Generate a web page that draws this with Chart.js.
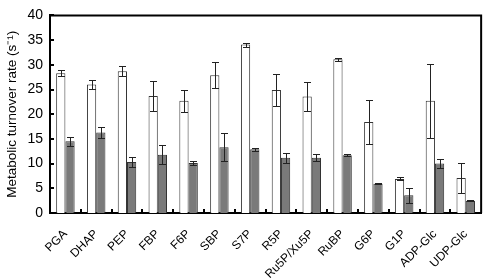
<!DOCTYPE html>
<html>
<head>
<meta charset="utf-8">
<script src="https://cdn.jsdelivr.net/npm/chart.js@4.4.0/dist/chart.umd.min.js"></script>
<style>
  html, body { margin: 0; padding: 0; background: #fff; }
  #wrap { width: 490px; height: 280px; }
</style>
</head>
<body>
<div id="wrap"><canvas id="turnoverChart"></canvas></div>
<script>
const metabolites = ['PGA', 'DHAP', 'PEP', 'FBP', 'F6P', 'SBP', 'S7P', 'R5P', 'Ru5P/Xu5P', 'RuBP', 'G6P', 'G1P', 'ADP-Glc', 'UDP-Glc'];
const whiteValues = [28.3, 26.0, 28.7, 23.7, 22.7, 27.9, 34.1, 24.9, 23.6, 31.1, 18.4, 6.9, 22.7, 7.1];
const whiteErrors = [0.6, 0.9, 1.0, 3.0, 2.3, 2.6, 0.4, 3.3, 3.0, 0.3, 4.5, 0.3, 7.5, 3.0];
const grayValues = [14.5, 16.3, 10.3, 11.8, 10.1, 13.3, 12.9, 11.2, 11.2, 11.7, 5.9, 3.6, 10.0, 2.5];
const grayErrors = [0.9, 1.2, 1.0, 1.9, 0.4, 2.8, 0.3, 1.0, 0.7, 0.2, 0.1, 1.5, 0.9, 0.1];
const yTicks = [0, 5, 10, 15, 20, 25, 30, 35, 40];

const FONT = 'Liberation Sans, Arial, sans-serif';

// error bars + inward ticks + box frame
const extras = {
  id: 'extras',
  afterDatasetsDraw(chart) {
    const { ctx, chartArea: a, scales: { x, y } } = chart;
    ctx.save();
    const errs = [whiteErrors, grayErrors];
    chart.data.datasets.forEach((ds, di) => {
      const meta = chart.getDatasetMeta(di);
      meta.data.forEach((bar, i) => {
        const v = ds.data[i], e = errs[di][i];
        if (!e) return;
        const top = Math.round(y.getPixelForValue(v + e)) + 0.5;
        const bot = Math.round(y.getPixelForValue(v - e)) + 0.5;
        const cx = Math.round(bar.x) + 0.5;
        ctx.strokeStyle = '#222';
        ctx.lineWidth = 1;
        ctx.beginPath();
        ctx.moveTo(cx, top); ctx.lineTo(cx, bot);
        ctx.moveTo(cx - 3.5, top); ctx.lineTo(cx + 3.5, top);
        ctx.moveTo(cx - 3.5, bot); ctx.lineTo(cx + 3.5, bot);
        ctx.stroke();
      });
    });

    ctx.strokeStyle = '#000';
    ctx.lineWidth = 2;
    // frame on top and right
    ctx.beginPath();
    ctx.moveTo(a.left, a.top);
    ctx.lineTo(a.right, a.top);
    ctx.lineTo(a.right, a.bottom);
    ctx.stroke();

    // inward ticks
    ctx.beginPath();
    for (let i = 0; i < metabolites.length - 1; i++) {
      const bx = Math.round((x.getPixelForTick(i) + x.getPixelForTick(i + 1)) / 2);
      ctx.moveTo(bx, a.bottom); ctx.lineTo(bx, a.bottom - 4);
    }
    yTicks.forEach(t => {
      const py = Math.round(y.getPixelForValue(t));
      ctx.moveTo(a.left, py); ctx.lineTo(a.left + 4, py);
    });
    ctx.stroke();
    ctx.restore();
  }
};

new Chart(document.getElementById('turnoverChart'), {
  type: 'bar',
  data: {
    labels: metabolites,
    datasets: [
      {
        label: 'white',
        data: whiteValues,
        backgroundColor: '#ffffff',
        borderColor: '#333',
        borderWidth: 1,
        barPercentage: 1,
        categoryPercentage: 0.6
      },
      {
        label: 'gray',
        data: grayValues,
        backgroundColor: '#7a7a7a',
        borderColor: '#333',
        borderWidth: 1,
        barPercentage: 1,
        categoryPercentage: 0.6
      }
    ]
  },
  options: {
    responsive: true,
    maintainAspectRatio: false,
    animation: false,
    layout: { padding: { top: 7, right: 2, left: 0, bottom: 0 } },
    plugins: {
      legend: { display: false },
      tooltip: { enabled: false }
    },
    scales: {
      x: {
        grid: { display: false, drawTicks: false, tickLength: 0 },
        border: { display: true, color: '#000', width: 2 },
        ticks: {
          color: '#000',
          font: { family: FONT, size: 12 },
          minRotation: 45,
          maxRotation: 45,
          padding: 14,
          autoSkip: false
        },
        afterFit(s) { s.height = 67; }
      },
      y: {
        min: 0,
        max: 40,
        grid: { display: false, drawTicks: false, tickLength: 0 },
        border: { display: true, color: '#000', width: 2 },
        ticks: {
          stepSize: 5,
          color: '#000',
          font: { family: FONT, size: 14 },
          padding: 7
        },
        title: {
          display: true,
          text: 'Metabolic turnover rate (s⁻¹)',
          color: '#000',
          font: { family: FONT, size: 13.5 },
          padding: { top: 4, bottom: 0 }
        },
        afterFit(s) { s.width = 50; }
      }
    }
  },
  plugins: [extras]
});
</script>
</body>
</html>
